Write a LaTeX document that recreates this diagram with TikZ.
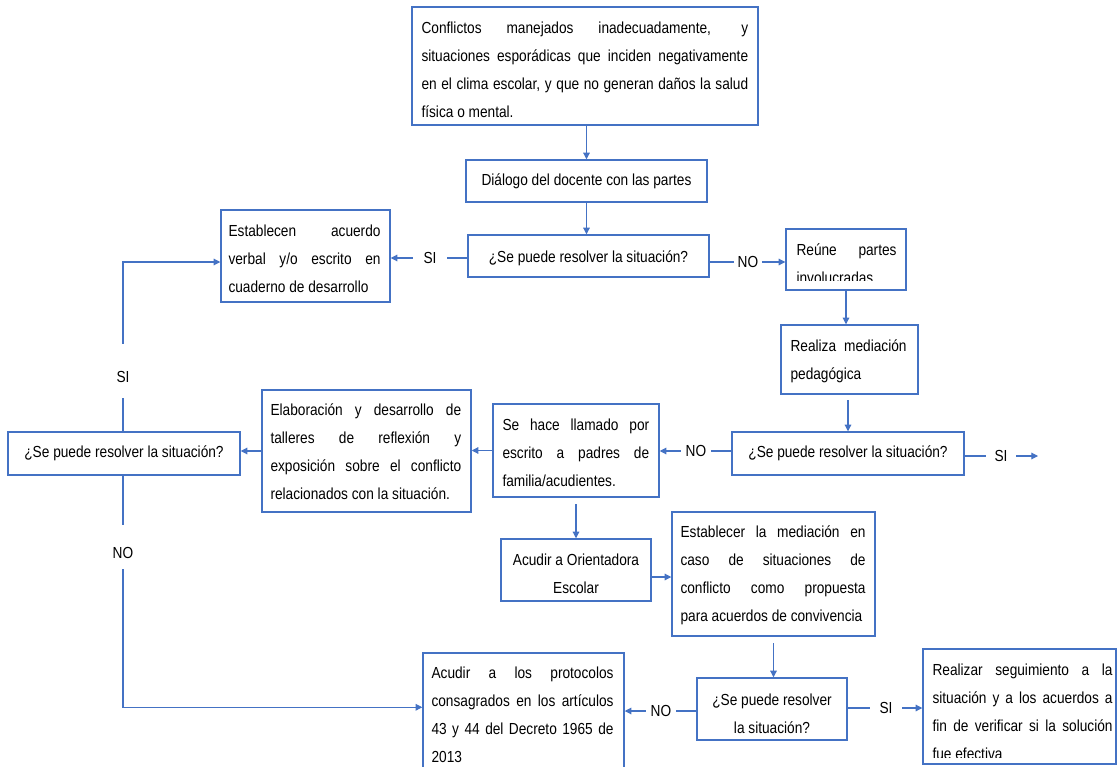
\documentclass[tikz,border=0pt]{standalone}
\usepackage{fontspec}
\setmainfont{Liberation Sans}[FakeStretch=0.855]
\usetikzlibrary{arrows.meta,calc,fit}
\definecolor{bblue}{HTML}{4472C4}
\newcommand\jline[1]{\makebox[\hsize][s]{\spaceskip=0pt\xspaceskip=0pt #1}\\}
\newcommand\lline[1]{\mbox{#1}}
\hyphenpenalty=10000
\tikzset{
  box/.style={draw=bblue, line width=1.1pt, inner sep=0pt},
  txt/.style={inner sep=0pt, align=flush left, font=\fontsize{12}{21}\selectfont, anchor=base west},
  ctxt/.style={inner sep=0pt, align=flush center, font=\fontsize{12}{21}\selectfont, anchor=base},
  lab/.style={inner ysep=0pt, font=\fontsize{12}{14}\selectfont},
  arr/.style={draw=bblue, line width=0.8pt, -{Triangle[length=5pt,width=5pt]}},
  ln/.style={draw=bblue, line width=0.8pt}
}
\begin{document}
\begin{tikzpicture}[x=0.75pt,y=-0.75pt]
\clip (0,0) rectangle (1117,767);
\fill[white] (0,0) rectangle (1117,767);

% boxes
\node[box, fit={(412,7) (758,125)}] (box1) {};
\node[box, fit={(466,160) (707,202)}] (box2) {};
\node[box, fit={(468,235) (709,277)}] (box3) {};
\node[box, fit={(221,210) (390,302)}] (est) {};
\node[box, fit={(786,229) (906,290)}] (reune) {};
\node[box, fit={(781,325) (918,394)}] (realiza) {};
\node[box, fit={(732,432) (964,475)}] (q2) {};
\node[box, fit={(493,404) (659,497)}] (sehace) {};
\node[box, fit={(262,390) (471,512)}] (elab) {};
\node[box, fit={(8,432) (240,475)}] (q3) {};
\node[box, fit={(501,539) (651,601)}] (ori) {};
\node[box, fit={(672,512) (875,636)}] (estab) {};
\node[box, fit={(697,678) (847,740)}] (q4) {};
\node[box, fit={(423,653) (624,800)}] (proto) {};
\node[box, fit={(923,649) (1116,764)}] (realizar) {};

% texts
\node[txt, text width=245pt] (t1) at ($(box1.north west)+(10,27)$) {%
\jline{Conflictos manejados inadecuadamente, y}
\jline{situaciones esporádicas que inciden negativamente}
\jline{en el clima escolar, y que no generan daños la salud}
\lline{física o mental.}};
\node[ctxt] (t2) at ($(box2.north)+(0,26)$) {Diálogo del docente con las partes};
\node[ctxt] (t3) at ($(box3.north)+(0,28)$) {¿Se puede resolver la situación?};
\node[txt, text width=114pt] (test) at ($(est.north west)+(8,27)$) {%
\jline{Establecen acuerdo}
\jline{verbal y/o escrito en}
\lline{cuaderno de desarrollo}};
\begin{scope}
\clip ($(reune.south west)+(0,-10)$) rectangle (reune.north east);
\node[txt, text width=75pt] (treune) at ($(reune.north west)+(11,27)$) {%
\jline{Reúne partes}
\lline{involucradas}};
\end{scope}
\node[txt, text width=87pt] (trealiza) at ($(realiza.north west)+(10,27)$) {%
\jline{Realiza mediación}
\lline{pedagógica}};
\node[ctxt] (tq2) at ($(q2.north)+(0,26)$) {¿Se puede resolver la situación?};
\node[txt, text width=110pt] (tsehace) at ($(sehace.north west)+(10,27)$) {%
\jline{Se hace llamado por}
\jline{escrito a padres de}
\lline{familia/acudientes.}};
\node[txt, text width=143pt] (telab) at ($(elab.north west)+(9,26)$) {%
\jline{Elaboración y desarrollo de}
\jline{talleres de reflexión y}
\jline{exposición sobre el conflicto}
\lline{relacionados con la situación.}};
\node[ctxt] (tq3) at ($(q3.north)+(0,26)$) {¿Se puede resolver la situación?};
\node[ctxt, text width=125pt] (tori) at ($(ori.north)+(0,27)$) {Acudir a Orientadora\\Escolar};
\node[txt, text width=138.75pt] (testab) at ($(estab.north west)+(9,26)$) {%
\jline{Establecer la mediación en}
\jline{caso de situaciones de}
\jline{conflicto como propuesta}
\lline{para acuerdos de convivencia}};
\node[ctxt, text width=125pt] (tq4) at ($(q4.north)+(0,28)$) {¿Se puede resolver\\la situación?};
\node[txt, text width=136.5pt] (tproto) at ($(proto.north west)+(9,26)$) {%
\jline{Acudir a los protocolos}
\jline{consagrados en los artículos}
\jline{43 y 44 del Decreto 1965 de}
\lline{2013}};
\begin{scope}
\clip ($(realizar.south west)+(0,-7)$) rectangle (realizar.north east);
\node[txt, text width=135pt] (trealizar) at ($(realizar.north west)+(10,27)$) {%
\jline{Realizar seguimiento a la}
\jline{situación y a los acuerdos a}
\jline{fin de verificar si la solución}
\lline{fue efectiva}};
\end{scope}

% labels
\node[lab, inner xsep=8pt] (si1) at (430,258) {SI};
\node[lab, inner xsep=2.5pt] (no1) at (748,262) {NO};
\node[lab, inner xsep=3.5pt] (no2) at (696,451) {NO};
\node[lab, inner xsep=6.5pt] (si2) at (1001,456) {SI};
\node[lab, inner xsep=3.5pt] (no3) at (661,711) {NO};
\node[lab, inner xsep=7pt] (si3) at (886,708) {SI};
\node[lab, inner sep=0pt, text height=28.5pt, text depth=12pt, anchor=base] (si4) at (123,382) {SI};
\node[lab, inner sep=0pt, text height=24.75pt, text depth=8.25pt, anchor=base] (no4) at (123,558) {NO};
\coordinate (si2end) at (1038,456);

% connectors
\draw[arr] (box2.north |- box1.south) -- (box2.north);
\draw[arr] (box2.south) -- (box2.south |- box3.north);
\draw[ln] (box3.west |- si1) -- (si1.east);
\draw[arr] (si1.west) -- (si1.west -| est.east);
\draw[ln] (box3.east |- no1) -- (no1.west);
\draw[arr] (no1.east) -- (no1.east -| reune.west);
\draw[arr] (reune.south) -- (reune.south |- realiza.north);
\draw[arr, shorten <=4pt] (q2.north |- realiza.south) -- (q2.north);
\draw[ln] (q2.east |- si2) -- (si2.west);
\draw[arr] (si2.east) -- (si2end);
\draw[ln] (q2.west |- no2) -- (no2.east);
\draw[arr] (no2.west) -- (no2.west -| sehace.east);
\draw[arr] (sehace.west) -- (sehace.west -| elab.east);
\draw[arr] (elab.west) -- (elab.west -| q3.east);
\draw[ln] (si4.south |- q3.north) -- (si4.south);
\draw[arr] (si4.north) |- ($(est.west)+(0,6)$);
\draw[ln] (no4.north |- q3.south) -- (no4.north);
\draw[arr] (no4.south) |- ($(proto.north west)+(0,55)$);
\draw[arr, shorten <=5pt] (sehace.south) -- (sehace.south |- ori.north);
\draw[arr] ($(ori.east)+(0,7)$) coordinate (oa) -- (oa -| estab.west);
\draw[arr, shorten <=5pt] (estab.south) -- (estab.south |- q4.north);
\draw[ln] (q4.west |- no3) -- (no3.east);
\draw[arr] (no3.west) -- (no3.west -| proto.east);
\draw[ln] (q4.east |- si3) -- (si3.west);
\draw[arr] (si3.east) -- (si3.east -| realizar.west);
\end{tikzpicture}
\end{document}
